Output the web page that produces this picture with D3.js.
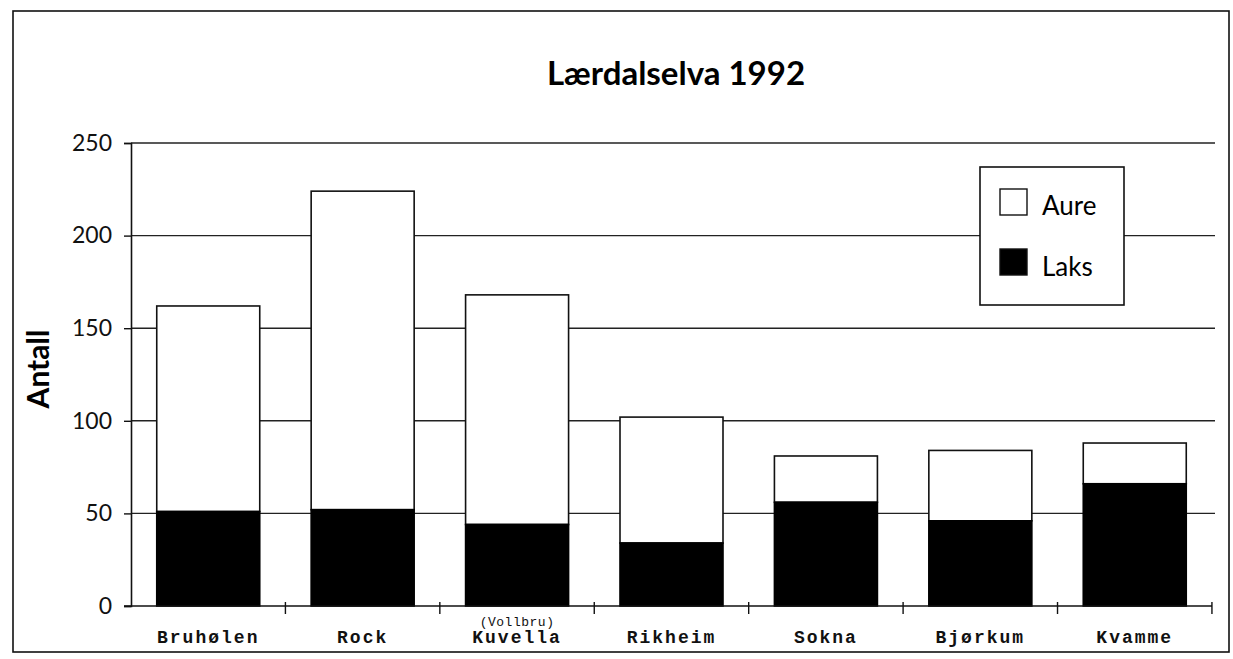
<!DOCTYPE html>
<html>
<head>
<meta charset="utf-8">
<script src="https://cdn.jsdelivr.net/npm/d3@7"></script>
<style>
  body { margin: 0; background: #fff; }
  .tickLabel { font-family: Lato, "Open Sans", sans-serif; font-size: 23px; fill: #111; }
  .catLabel { font-family: "Liberation Mono", "Courier New", monospace; font-weight: bold; font-size: 18px; letter-spacing: 2px; fill: #111; }
</style>
</head>
<body>
<div id="chart"></div>
<script>
const categories = ['Bruhølen', 'Rock', 'Kuvella', 'Rikheim', 'Sokna', 'Bjørkum', 'Kvamme'];
const laks = [51, 52, 44, 34, 56, 46, 66];
const totals = [162, 224, 168, 102, 81, 84, 88];
const aure = totals.map((t, i) => t - laks[i]);
const yTicks = [0, 50, 100, 150, 200, 250];

const width = 1233, height = 659;
const margin = { top: 143, right: 21, bottom: 53, left: 131 };

const svg = d3.select('#chart').append('svg')
    .attr('width', width)
    .attr('height', height);

// page frame
svg.append('rect')
    .attr('x', 13).attr('y', 11)
    .attr('width', 1216).attr('height', 641)
    .attr('fill', 'none')
    .attr('stroke', '#111')
    .attr('stroke-width', 1.6);

svg.append('text')
    .attr('x', 676).attr('y', 85)
    .attr('text-anchor', 'middle')
    .style('font-family', 'Lato, "Open Sans", sans-serif')
    .style('font-weight', 'bold')
    .style('font-size', '33px')
    .text('Lærdalselva 1992');

let x = d3.scaleBand()
    .domain(categories)
    .range([margin.left, 1212])
    .paddingInner(0.333)
    .paddingOuter(0.1667);

let y = d3.scaleLinear()
    .domain([0, 250])
    .range([height - margin.bottom, margin.top]);

// gridlines
svg.append('g')
    .selectAll('line')
    .data(yTicks.filter(d => d > 0))
    .enter()
    .append('line')
    .attr('x1', margin.left).attr('x2', 1215)
    .attr('y1', d => y(d)).attr('y2', d => y(d))
    .attr('stroke', '#222')
    .attr('stroke-width', 1.4);

// y axis
let yAxis = d3.axisLeft(y)
    .tickValues(yTicks)
    .tickSize(7)
    .tickPadding(12)
    .tickFormat(d3.format('d'));

svg.append('g')
    .attr('transform', `translate(${margin.left},0)`)
    .call(yAxis)
    .call(g => g.select('.domain').attr('stroke', '#111').attr('stroke-width', 1.6))
    .call(g => g.selectAll('.tick line').attr('stroke', '#111').attr('stroke-width', 1.4))
    .call(g => g.selectAll('.tick text').attr('class', 'tickLabel'));

svg.append('text')
    .attr('transform', 'translate(49,369) rotate(-90)')
    .attr('text-anchor', 'middle')
    .style('font-family', 'Lato, "Open Sans", sans-serif')
    .style('font-weight', 'bold')
    .style('font-size', '30px')
    .text('Antall');

// bars
const stackData = categories.map((c, i) => ({ name: c, laks: laks[i], aure: aure[i] }));

svg.selectAll('rect.aure')
    .data(stackData)
    .enter()
    .append('rect')
    .attr('class', 'aure')
    .attr('x', d => x(d.name))
    .attr('width', x.bandwidth())
    .attr('y', d => y(d.laks + d.aure))
    .attr('height', d => y(d.laks) - y(d.laks + d.aure))
    .attr('fill', '#fff')
    .attr('stroke', '#111')
    .attr('stroke-width', 1.6);

svg.selectAll('rect.laks')
    .data(stackData)
    .enter()
    .append('rect')
    .attr('class', 'laks')
    .attr('x', d => x(d.name))
    .attr('width', x.bandwidth())
    .attr('y', d => y(d.laks))
    .attr('height', d => y(0) - y(d.laks))
    .attr('fill', '#000')
    .attr('stroke', '#000')
    .attr('stroke-width', 1.6);

// x axis
const step = x.step();
const xTickPos = d3.range(categories.length + 1).map(i => margin.left + i * step);
svg.append('line')
    .attr('x1', margin.left - 7).attr('x2', 1212)
    .attr('y1', y(0)).attr('y2', y(0))
    .attr('stroke', '#111').attr('stroke-width', 1.6);
svg.append('g')
    .selectAll('line')
    .data(xTickPos.slice(1))
    .enter()
    .append('line')
    .attr('x1', d => d).attr('x2', d => d)
    .attr('y1', y(0) - 4).attr('y2', y(0) + 8)
    .attr('stroke', '#111').attr('stroke-width', 1.4);

svg.selectAll('text.catLabel')
    .data(categories)
    .enter()
    .append('text')
    .attr('class', 'catLabel')
    .attr('x', d => x(d) + x.bandwidth() / 2)
    .attr('y', 643)
    .attr('text-anchor', 'middle')
    .text(d => d);

svg.append('text')
    .attr('class', 'catLabel')
    .attr('x', x('Kuvella') + x.bandwidth() / 2)
    .attr('y', 626)
    .attr('text-anchor', 'middle')
    .style('font-size', '13px')
    .style('font-weight', 'normal')
    .style('letter-spacing', '0.5px')
    .text('(Vollbru)');

// legend
const legend = svg.append('g').attr('transform', 'translate(980,167)');
legend.append('rect')
    .attr('width', 144).attr('height', 138)
    .attr('fill', '#fff')
    .attr('stroke', '#111')
    .attr('stroke-width', 1.6);

const legendItems = [
    { label: 'Aure', fill: '#fff' },
    { label: 'Laks', fill: '#000' }
];
legendItems.forEach((d, i) => {
    legend.append('rect')
        .attr('x', 20).attr('y', 22 + i * 60)
        .attr('width', 27).attr('height', 26)
        .attr('fill', d.fill)
        .attr('stroke', '#111')
        .attr('stroke-width', 1.4);
    legend.append('text')
        .attr('x', 62).attr('y', 48 + i * 61)
        .style('font-family', 'Lato, "Open Sans", sans-serif')
        .style('font-size', '26px')
        .text(d.label);
});
</script>
</body>
</html>
